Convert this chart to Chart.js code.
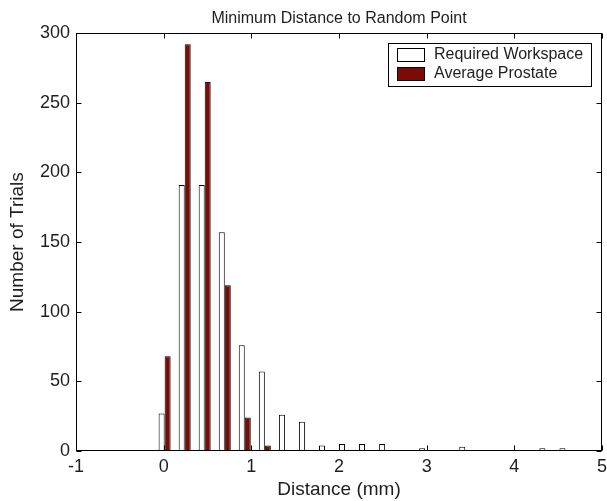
<!DOCTYPE html>
<html>
<head>
<meta charset="utf-8">
<title>Minimum Distance to Random Point</title>
<script src="https://cdn.jsdelivr.net/npm/chart.js@4.4.0/dist/chart.umd.min.js"></script>
<style>
  html, body { margin: 0; padding: 0; background: #fff; }
  #wrap { width: 607px; height: 501px; position: relative; }
</style>
</head>
<body>
<div id="wrap"><canvas id="distChart"></canvas></div>
<script>
// bin centres (mm)
const binCenters = [0.011, 0.240, 0.468, 0.697, 0.925, 1.154, 1.383, 1.611, 1.840, 2.068, 2.297,
                    2.526, 2.754, 2.983, 3.211, 3.440, 3.669, 3.897, 4.126, 4.354, 4.583];
const requiredWorkspace = [27, 191, 191, 157, 76, 57, 26, 21, 4, 5, 5, 5, 0, 2, 0, 3, 0, 0, 0, 2, 2];
const averageProstate   = [68, 292, 265, 119, 24, 4, 0, 0, 0, 0, 0, 0, 0, 0, 0, 0, 0, 0, 0, 0, 0];
const xTickValues = [-1, 0, 1, 2, 3, 4, 5];
const yTickValues = [0, 50, 100, 150, 200, 250, 300];

const FONT = '"Liberation Sans", Arial, Helvetica, sans-serif';
const TEXT = '#1e1e1e';
const MAROON = '#7a0b07';

const toPoints = vals => binCenters.map((c, i) => ({ x: c, y: vals[i] }));

// MATLAB style box with inward ticks on all four sides
const boxTicks = {
  id: 'boxTicks',
  afterDatasetsDraw(chart) {
    const { ctx, chartArea: a, scales: { x, y } } = chart;
    const L = Math.round(a.left) + 0.5, R = Math.round(a.right) - 0.5;
    const T = Math.round(a.top) + 0.5, B = Math.round(a.bottom) - 0.5;
    const len = 5;
    ctx.save();
    ctx.strokeStyle = '#000';
    ctx.lineWidth = 1;
    ctx.strokeRect(L, T, R - L, B - T);
    ctx.beginPath();
    xTickValues.forEach(v => {
      const px = Math.round(x.getPixelForValue(v)) + 0.5;
      ctx.moveTo(px, B); ctx.lineTo(px, B - len);
      ctx.moveTo(px, T); ctx.lineTo(px, T + len);
    });
    yTickValues.forEach(v => {
      const py = Math.round(y.getPixelForValue(v)) + 0.5;
      ctx.moveTo(L, py); ctx.lineTo(L + len, py);
      ctx.moveTo(R, py); ctx.lineTo(R - len, py);
    });
    ctx.stroke();
    ctx.restore();
  }
};

// legend box inside the axes, top right
const boxLegend = {
  id: 'boxLegend',
  afterDraw(chart) {
    const { ctx, chartArea: a } = chart;
    const right = Math.round(a.right) - 10, left = right - 204;
    const top = Math.round(a.top) + 10, h = 44;
    ctx.save();
    ctx.fillStyle = '#fff';
    ctx.fillRect(left, top, right - left, h);
    ctx.strokeStyle = '#000';
    ctx.lineWidth = 1;
    ctx.strokeRect(left + 0.5, top + 0.5, right - left - 1, h - 1);
    ctx.font = '16px ' + FONT;
    ctx.textBaseline = 'middle';
    ctx.textAlign = 'left';
    chart.data.datasets.forEach((ds, i) => {
      const sy = top + 5 + i * 19;
      ctx.fillStyle = ds.backgroundColor;
      ctx.fillRect(left + 9, sy, 28, 14);
      ctx.strokeStyle = '#000';
      ctx.strokeRect(left + 9.5, sy + 0.5, 27, 13);
      ctx.fillStyle = TEXT;
      ctx.fillText(ds.label, left + 46, sy + 7);
    });
    ctx.restore();
  }
};

new Chart(document.getElementById('distChart'), {
  type: 'bar',
  data: {
    datasets: [
      {
        label: 'Required Workspace',
        data: toPoints(requiredWorkspace),
        backgroundColor: '#ffffff',
        borderColor: '#000000',
        borderWidth: 1,
        borderSkipped: false
      },
      {
        label: 'Average Prostate',
        data: toPoints(averageProstate),
        backgroundColor: MAROON,
        borderColor: '#000000',
        borderWidth: 1,
        borderSkipped: false
      }
    ]
  },
  options: {
    responsive: true,
    maintainAspectRatio: false,
    animation: false,
    devicePixelRatio: 1,
    categoryPercentage: 0.6,
    barPercentage: 1.0,
    layout: { padding: { left: 0, right: 5, top: 0, bottom: 0 } },
    plugins: {
      legend: { display: false },
      tooltip: { enabled: false },
      title: {
        display: true,
        fullSize: false,
        text: 'Minimum Distance to Random Point',
        color: TEXT,
        font: { family: FONT, size: 16, weight: 'normal', lineHeight: 1.2 },
        padding: { top: 9, bottom: 5 }
      }
    },
    scales: {
      x: {
        type: 'linear',
        min: -1, max: 5,
        offset: false,
        afterBuildTicks: s => { s.ticks = xTickValues.map(v => ({ value: v })); },
        afterFit: s => { s.height = 50; s.paddingLeft = 0; s.paddingRight = 0; },
        grid: { display: false, drawTicks: false },
        border: { display: false },
        ticks: {
          autoSkip: false, maxRotation: 0, padding: 5,
          color: TEXT, font: { family: FONT, size: 18 }
        },
        title: {
          display: true, text: 'Distance (mm)', color: TEXT,
          font: { family: FONT, size: 19 },
          padding: { top: 0, bottom: 0 }
        }
      },
      y: {
        min: 0, max: 300,
        afterBuildTicks: s => { s.ticks = yTickValues.map(v => ({ value: v })); },
        afterFit: s => { s.width = 76; },
        grid: { display: false, drawTicks: false },
        border: { display: false },
        ticks: {
          padding: 6, color: TEXT, font: { family: FONT, size: 18 }
        },
        title: {
          display: true, text: 'Number of Trials', color: TEXT,
          font: { family: FONT, size: 19 },
          padding: { top: 6, bottom: 0 }
        }
      }
    }
  },
  plugins: [boxTicks, boxLegend]
});
</script>
</body>
</html>
